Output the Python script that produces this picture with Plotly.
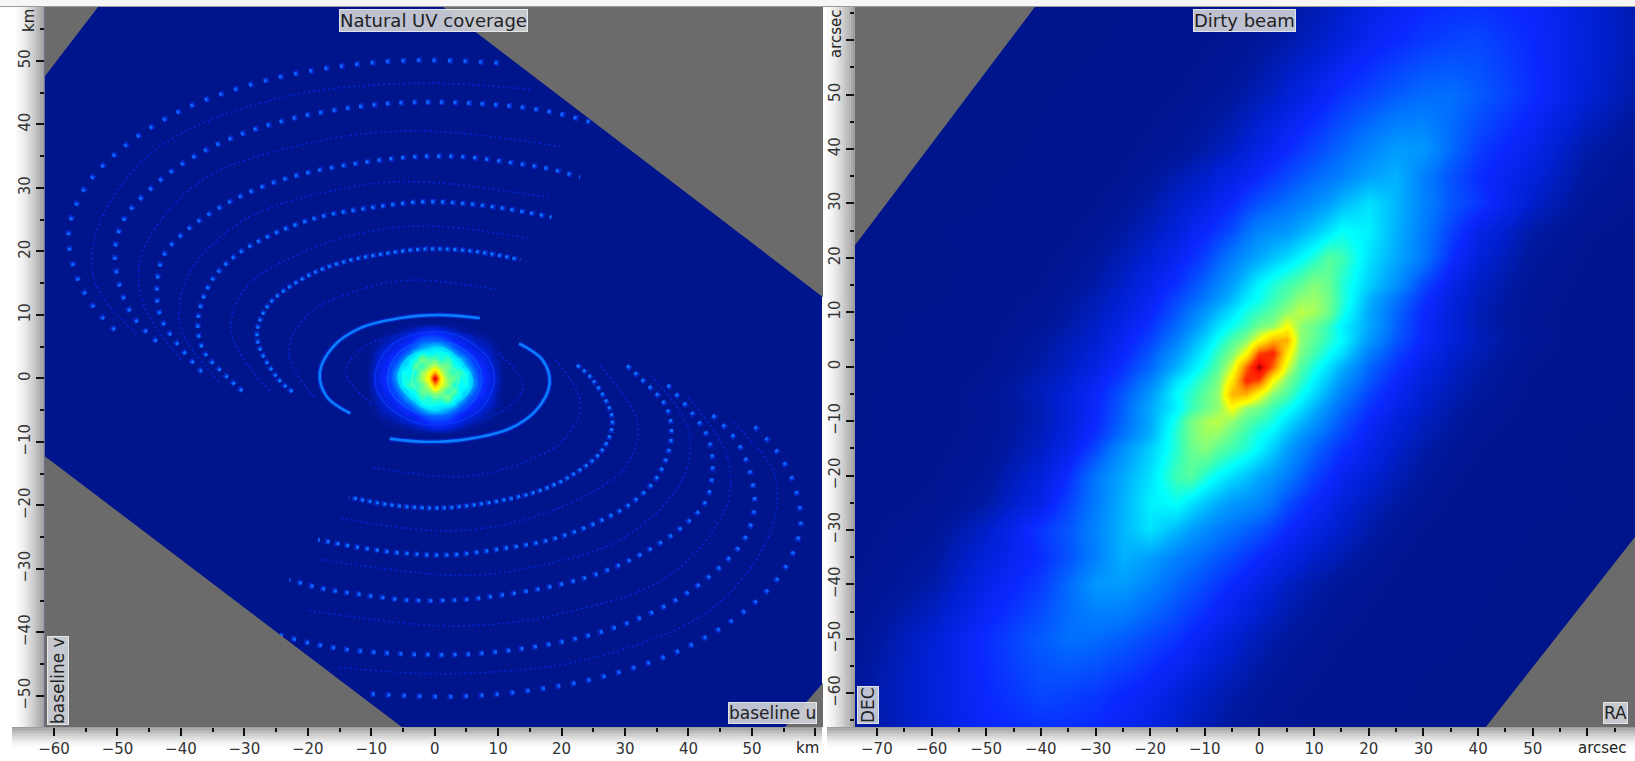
import plotly.graph_objects as go

W, H = 1635, 761
LEFT_PX = (44.5, 823.0)
RIGHT_PX = (855.0, 1635.0)
TOP_PX, BOTTOM_PX = 7.0, 727.0

# ---------- Natural UV coverage: tracks (km) ----------
track_1 = [(-50.4,7.6),(-53.8,11.3),(-56.4,16),(-57.7,21.8),(-57.2,25.5),(-54.6,30.8),(-49,36.5),(-39.8,42.3),(-27.5,46.7),(-16,49),(-3.4,50.1),(11.6,49.6)]
track_2 = [(-43.8,5.8),(-47.5,9.7),(-49.6,14.4),(-50.4,20.2),(-49,25),(-46.1,28.6),(-40.1,33.6),(-31.7,38),(-22.2,41),(-12,42.8),(-3.4,43.5),(9.8,43.1),(18.2,42),(24.5,40.4)]
track_3 = [(-36.7,1.0),(-40.6,5.5),(-43,9.2),(-43.8,13.4),(-42.8,19.2),(-39,23.4),(-32.7,27.6),(-26.4,30.5),(-19.6,32.5),(-10.7,34.1),(-3.4,34.9),(4.5,34.9),(11.9,34),(17.7,33.1),(22.9,31.7)]
track_4 = [(-30.3,-2),(-32.7,.2),(-36.5,4.5),(-37.3,9.2),(-35.4,15),(-31.7,19.1),(-26.4,22.3),(-18.6,25.3),(-10.7,26.8),(-2.3,27.8),(4,27.6),(10.8,26.8),(18.4,25.4)]
track_5 = [(-22.4,-2.1),(-24.9,.2),(-28,6.5),(-26.4,11.3),(-21.2,15.5),(-14.9,18.2),(-3.9,20.2),(.8,20.4),(7.1,19.9),(13.5,18.7)]
track_6 = [(-13.3,-5.5),(-17,-2.9),(-18.1,.9),(-16,5),(-11.8,7.9),(-5.5,9.5),(.8,10),(7.1,9.5)]
bright_tracks = [track_1, track_2, track_3, track_4, track_5, track_6]
track_dash = ["3px,12.5px", "3px,10.5px", "3px,9px", "3px,7px", "3px,4.5px", "solid"]
track_color = ["#0c62ff", "#0c66ff", "#0c6aff", "#0a70ff", "#0a76ff", "#0a82ff"]
track_width = [3.2, 3.2, 3.0, 3.0, 2.8, 2.4]

faint_tracks = [
    [(-47,7),(-53.5,15),(-53,24),(-44,36),(-25,44),(-3,46.5),(15,45.5)],
    [(-40,3),(-46,12),(-46,20),(-37,31),(-20,37),(-3,39),(20,36.5)],
    [(-34,-.5),(-40,8),(-39,16),(-30,25),(-14,30),(-3,31),(18,28.5)],
    [(-26,-2),(-32,7),(-30,14),(-18,21),(-3,24),(15,22)],
    [(-19,-3),(-23,4),(-20,10),(-10,14.5),(-3,15.5),(10,14)],
    [(-10,-4),(-14,1),(-11,5),(-5,7),(1,7.5),(6,6.5)],
]

# Rings round the central blob (closed curves, km)
rim_ring = [(-5.7,0),(-5,2.2),(-3.5,3.7),(-1,4.4),(1.5,4.7),(3.5,3.2),(5,1.6),(5.9,-.4),(5,-2.5),(3.2,-3.8),(1,-4.5),(-1.5,-4.6),(-3.5,-3.2),(-5,-1.7),(-5.7,0)]
inner_ring = [(-3.6,.3),(-2.6,2.4),(-.5,2.9),(1.6,2.2),(3.2,1.4),(3.8,-.4),(2.6,-2.4),(.5,-3),(-1.6,-2.4),(-3.2,-1.3),(-3.6,.3)]
halo_ring_1 = [(-7.4,.2),(-5.8,3.9),(-1.5,5.9),(3,5.4),(6.6,2.6),(7.4,-.2),(5.8,-3.9),(1.5,-5.9),(-3,-5.4),(-6.6,-2.6),(-7.4,.2)]
halo_ring_2 = [(-9.4,.4),(-7.2,4.9),(-2,7.2),(3.8,6.7),(8.4,3.2),(9.4,-.4),(7.2,-4.9),(2,-7.2),(-3.8,-6.7),(-8.4,-3.2),(-9.4,.4)]
core_rings = [halo_ring_2, halo_ring_1, rim_ring, inner_ring]
ring_color = ["#0a3cff", "#0a58ff", "#00eaff", "#70ffa0"]
ring_width = [1.6, 1.8, 2.4, 1.8]
ring_alpha = [0.7, 0.7, 0.65, 0.5]

# Central blob of the UV plane (rows y = 0..9 km, the lower rows are its point reflection)
core_x = list(range(-11, 12))
core_y_upper = list(range(0, 10))
core_upper = [
 [0,.06,.10,.13,.17,.26,.38,.37,.42,.52,.62,1,.62,.48,.46,.38,.38,.24,.16,.13,.10,.06,0],
 [0,.06,.09,.12,.16,.26,.37,.36,.38,.50,.58,.72,.55,.45,.40,.42,.36,.22,.15,.12,.09,.06,0],
 [0,.05,.09,.12,.15,.20,.32,.36,.45,.40,.50,.55,.48,.46,.38,.36,.26,.18,.14,.11,.08,.05,0],
 [0,.04,.08,.11,.13,.16,.22,.35,.38,.48,.42,.44,.38,.42,.36,.31,.20,.15,.12,.10,.07,.04,0],
 [0,.04,.07,.09,.11,.13,.16,.22,.34,.38,.36,.37,.38,.36,.27,.19,.15,.12,.10,.08,.06,.03,0],
 [0,.02,.05,.07,.09,.11,.13,.16,.20,.26,.30,.33,.31,.24,.18,.14,.12,.10,.08,.07,.05,.02,0],
 [0,0,.03,.05,.07,.08,.10,.12,.15,.18,.19,.19,.18,.15,.12,.11,.09,.07,.06,.05,.03,0,0],
 [0,0,0,.02,.04,.05,.07,.09,.11,.13,.14,.14,.13,.11,.09,.07,.06,.05,.03,.02,0,0,0],
 [0,0,0,0,0,.02,.03,.05,.06,.08,.09,.09,.08,.06,.05,.03,.02,0,0,0,0,0,0],
 [0]*23,
]

# Grey corners outside the rotated image (data units of each panel)
uv_corners = [
    [(-61.5,58.5),(-53.07,58.5),(-61.5,47.5)],
    [(1.3,58.5),(61.2,58.5),(61.2,12.8)],
    [(-61.5,-12.2),(-61.5,-54.9),(-5.2,-54.9)],
    [(61.2,-47.95),(61.2,-54.9),(55.2,-54.9)],
]
beam_corners = [
    [(-74,66.1),(-41.1,66.1),(-74,22.3)],
    [(68.7,-31.3),(68.7,-66.2),(41.4,-66.2)],
]

# ---------- Dirty beam: values (0..1), rows y >= 0 ----------
beam_x = [-75,-60,-50,-40,-35,-30,-25,-20,-15,-12.5,-10,-7.5,-5,-2.5,0,2.5,5,7.5,10,12.5,15,20,25,30,35,40,50,60,75]
beam_y_upper = [0,2.5,5,7.5,10,12.5,15,20,25,30,35,40,50,60,70]
beam_upper = [
 [0,.005,.015,.05,.07,.10,.14,.19,.28,.33,.38,.44,.56,.80,1,.80,.56,.44,.38,.33,.28,.19,.14,.10,.07,.05,.015,.005,0],
 [0,.004,.012,.045,.065,.09,.125,.175,.25,.30,.35,.41,.48,.60,.84,.88,.64,.48,.42,.37,.33,.22,.155,.115,.08,.06,.02,.004,0],
 [0,.003,.01,.04,.06,.08,.115,.155,.22,.27,.32,.37,.43,.49,.60,.72,.72,.50,.45,.40,.36,.25,.175,.125,.09,.065,.025,.005,0],
 [0,.002,.008,.03,.05,.075,.105,.14,.195,.235,.28,.33,.37,.41,.47,.50,.60,.50,.46,.41,.35,.27,.185,.125,.09,.06,.022,.006,0],
 [0,.002,.006,.025,.045,.065,.09,.125,.175,.21,.25,.29,.33,.38,.41,.445,.50,.54,.52,.47,.385,.27,.19,.13,.09,.06,.022,.006,0],
 [0,.001,.005,.02,.04,.06,.085,.115,.16,.185,.215,.25,.29,.34,.37,.41,.45,.50,.51,.47,.40,.28,.205,.14,.095,.065,.025,.007,0],
 [0,0,.004,.015,.03,.05,.075,.105,.14,.165,.19,.225,.26,.31,.355,.39,.42,.45,.49,.46,.395,.31,.24,.16,.105,.07,.028,.009,.001],
 [0,0,.003,.01,.02,.04,.06,.085,.115,.135,.155,.185,.215,.245,.27,.30,.325,.355,.39,.44,.42,.33,.27,.21,.135,.09,.036,.013,.002],
 [0,.001,.004,.006,.012,.025,.045,.065,.09,.11,.125,.145,.165,.20,.225,.24,.25,.275,.30,.33,.365,.345,.28,.215,.155,.105,.048,.018,.004],
 [0,0,.001,.004,.008,.014,.03,.05,.075,.085,.10,.115,.13,.15,.17,.185,.20,.215,.235,.255,.285,.33,.285,.225,.175,.145,.075,.03,.006],
 [0,0,.001,.003,.005,.008,.018,.035,.055,.065,.075,.09,.10,.115,.13,.145,.16,.175,.19,.205,.22,.26,.28,.22,.17,.135,.09,.04,.008],
 [0,0,0,.002,.003,.005,.01,.02,.032,.04,.05,.06,.07,.085,.10,.115,.13,.145,.16,.175,.19,.225,.255,.25,.195,.15,.105,.05,.012],
 [0,0,0,.001,.002,.003,.005,.009,.015,.02,.027,.033,.04,.05,.06,.07,.085,.095,.11,.125,.14,.16,.18,.195,.20,.18,.135,.085,.022],
 [0,0,0,0,0,.001,.002,.003,.006,.008,.012,.016,.02,.027,.035,.043,.05,.06,.068,.08,.09,.115,.13,.145,.155,.16,.13,.09,.035],
 [0,0,0,0,0,0,.001,.002,.003,.004,.006,.008,.01,.012,.02,.028,.035,.042,.05,.058,.07,.09,.105,.12,.125,.125,.12,.085,.03],
]

# Axis labels
uv_x_ticks = [-60,-50,-40,-30,-20,-10,0,10,20,30,40,50,60]
uv_x_text = ["\u221260","\u221250","\u221240","\u221230","\u221220","\u221210","0","10","20","30","40","50",""]
uv_y_ticks = [-50,-40,-30,-20,-10,0,10,20,30,40,50]
uv_y_text = ["\u221250","\u221240","\u221230","\u221220","\u221210","0","10","20","30","40","50"]
beam_x_ticks = [-70,-60,-50,-40,-30,-20,-10,0,10,20,30,40,50,60]
beam_x_text = ["\u221270","\u221260","\u221250","\u221240","\u221230","\u221220","\u221210","0","10","20","30","40","50",""]
beam_y_ticks = [-60,-50,-40,-30,-20,-10,0,10,20,30,40,50,60]
beam_y_text = ["\u221260","\u221250","\u221240","\u221230","\u221220","\u221210","0","10","20","30","40","50",""]
uv_x_minor = [-55,-45,-35,-25,-15,-5,5,15,25,35,45,55]
uv_y_minor = [-55,-45,-35,-25,-15,-5,5,15,25,35,45,55]
beam_x_minor = [-65,-55,-45,-35,-25,-15,-5,5,15,25,35,45,55,65]
beam_y_minor = [-65,-55,-45,-35,-25,-15,-5,5,15,25,35,45,55,65]

JET = [
 [0.0,"#00148c"],[0.04,"#00189c"],[0.08,"#0020d0"],[0.13,"#0a28ff"],[0.20,"#0070ff"],
 [0.27,"#00a8ff"],[0.36,"#00ffff"],[0.42,"#40ffb0"],[0.50,"#90ff70"],[0.60,"#ffff00"],
 [0.68,"#ffd000"],[0.78,"#ff8000"],[0.86,"#ff3000"],[0.93,"#ff1000"],[1.0,"#a00000"],
]
BG = "#00148c"
GREY = "#6b6b6b"
FONT = "DejaVu Sans"

fig = go.Figure()

def reflect(rows):
    return [r[::-1] for r in rows[:0:-1]] + rows

# UV panel
fig.add_trace(go.Heatmap(x=core_x, y=[-v for v in core_y_upper[:0:-1]] + core_y_upper,
                         z=reflect(core_upper), zmin=0, zmax=1, colorscale=JET, zsmooth="best",
                         showscale=False, hoverinfo="skip", xaxis="x", yaxis="y"))
for t, c, w, a in zip(core_rings, ring_color, ring_width, ring_alpha):
    fig.add_trace(go.Scatter(x=[p[0] for p in t], y=[p[1] for p in t], mode="lines", opacity=a,
                             line=dict(color=c, width=w, shape="spline"),
                             hoverinfo="skip", showlegend=False, xaxis="x", yaxis="y"))
for sign in (1, -1):
    for t in faint_tracks:
        fig.add_trace(go.Scatter(x=[sign*p[0] for p in t], y=[sign*p[1] for p in t], mode="lines",
                                 line=dict(color="#0026d8", width=1.6, shape="spline", dash="2px,3px"),
                                 hoverinfo="skip", showlegend=False, xaxis="x", yaxis="y"))
    for t, d, c, w in zip(bright_tracks, track_dash, track_color, track_width):
        if d != "solid":
            gap = float(d.split(",")[1][:-2]) - 2
            glow = "5px,%.1fpx" % gap
        else:
            glow = "solid"
        fig.add_trace(go.Scatter(x=[sign*p[0] for p in t], y=[sign*p[1] for p in t], mode="lines",
                                 line=dict(color="#0a3cff", width=w + 2.6, shape="spline", dash=glow),
                                 opacity=0.5, hoverinfo="skip", showlegend=False, xaxis="x", yaxis="y"))
        fig.add_trace(go.Scatter(x=[sign*p[0] for p in t], y=[sign*p[1] for p in t], mode="lines",
                                 line=dict(color=c, width=w, shape="spline", dash=d),
                                 hoverinfo="skip", showlegend=False, xaxis="x", yaxis="y"))
for poly in uv_corners:
    fig.add_trace(go.Scatter(x=[p[0] for p in poly], y=[p[1] for p in poly], mode="lines", fill="toself",
                             fillcolor=GREY, line=dict(width=0, color=GREY), hoverinfo="skip",
                             showlegend=False, xaxis="x", yaxis="y"))

# Beam panel
fig.add_trace(go.Heatmap(x=beam_x, y=[-v for v in beam_y_upper[:0:-1]] + beam_y_upper,
                         z=reflect(beam_upper), zmin=0, zmax=1, colorscale=JET, zsmooth="best",
                         showscale=False, hoverinfo="skip", xaxis="x2", yaxis="y2"))
for poly in beam_corners:
    fig.add_trace(go.Scatter(x=[p[0] for p in poly], y=[p[1] for p in poly], mode="lines", fill="toself",
                             fillcolor=GREY, line=dict(width=0, color=GREY), hoverinfo="skip",
                             showlegend=False, xaxis="x2", yaxis="y2"))

def ax(domain, rng, ticks, text, minor, anchor, angle=0):
    return dict(domain=domain, range=rng, tickmode="array", tickvals=ticks, ticktext=text, anchor=anchor,
                automargin=False,
                ticks="outside", ticklen=8, tickwidth=1.5, tickcolor="#111", showgrid=False, zeroline=False,
                showline=False, tickangle=angle, tickfont=dict(family=FONT, size=15, color="#333"),
                minor=dict(tickmode="array", tickvals=minor, ticks="outside", ticklen=4, tickwidth=1.5,
                           tickcolor="#111", showgrid=False))

ydom = [1 - BOTTOM_PX/H, 1 - TOP_PX/H]
fig.update_layout(
    width=W, height=H, margin=dict(l=0, r=0, t=0, b=0), paper_bgcolor="#ffffff", plot_bgcolor=BG,
    showlegend=False,
    xaxis=ax([LEFT_PX[0]/W, LEFT_PX[1]/W], [-61.5, 61.2], uv_x_ticks, uv_x_text, uv_x_minor, "y"),
    yaxis=ax(ydom, [-54.9, 58.5], uv_y_ticks, uv_y_text, uv_y_minor, "x", -90),
    xaxis2=ax([RIGHT_PX[0]/W, RIGHT_PX[1]/W], [-74, 68.7], beam_x_ticks, beam_x_text, beam_x_minor, "y2"),
    yaxis2=ax(ydom, [-66.2, 66.1], beam_y_ticks, beam_y_text, beam_y_minor, "x2", -90),
)

# Soft shading of the axis strips
def strip(x0, x1, y0, y1, color):
    return dict(type="rect", xref="paper", yref="paper", layer="below", x0=x0/W, x1=x1/W,
                y0=1-y1/H, y1=1-y0/H, fillcolor=color, line=dict(width=0))

shapes = [strip(0, W, 0, 6, "#f6f6f6"), strip(0, W, 6, 7, "#9a9a9a")]
n = 14
for i in range(n):
    a = 0.5*(1 - i/n)**1.6
    col = "rgba(60,60,60,%.3f)" % a
    shapes.append(strip(44.5-2.2*(i+1), 44.5-2.2*i, 7, 727, col))
    shapes.append(strip(855-2.2*(i+1), 855-2.2*i, 7, 727, col))
    shapes.append(strip(12, 823, 727+1.5*i, 727+1.5*(i+1), col))
    shapes.append(strip(826, 1635, 727+1.5*i, 727+1.5*(i+1), col))
shapes.append(strip(822, 827, 7, 761, "#ffffff"))
fig.update_layout(shapes=shapes)

def label(text, px, py, angle=0, boxed=True, size=17):
    d = dict(text=text, xref="paper", yref="paper", x=px/W, y=1-py/H, xanchor="center", yanchor="middle",
             showarrow=False, textangle=angle, font=dict(family=FONT, size=size, color="#222"))
    if boxed:
        d.update(bgcolor="rgba(205,208,214,0.92)", bordercolor="rgba(240,240,240,0.9)", borderwidth=1, borderpad=0)
    return d

fig.update_layout(annotations=[
    label("Natural UV coverage", 434, 21, size=18),
    label("Dirty beam", 1244, 21, size=18),
    label("baseline v", 58, 680, angle=-90),
    label("baseline u", 772, 713),
    label("DEC", 868, 705, angle=-90),
    label("RA", 1615, 713),
    label("km", 29, 20, angle=-90, boxed=False, size=15),
    label("arcsec", 836, 34, angle=-90, boxed=False, size=15),
    label("km", 807, 748, boxed=False, size=15),
    label("arcsec", 1602, 748, boxed=False, size=15),
])

fig.write_html("out.html", config=dict(displayModeBar=False),
               post_script="document.body.style.margin='0';document.body.style.overflow='hidden';")
